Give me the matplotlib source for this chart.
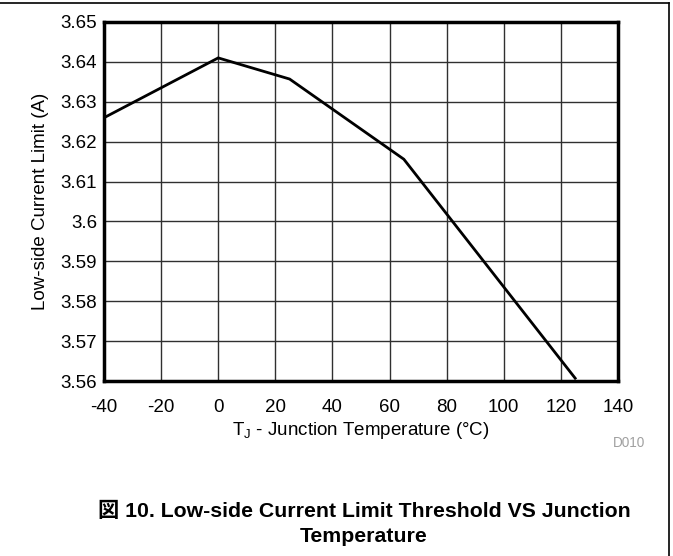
import matplotlib
matplotlib.use("Agg")
import matplotlib.pyplot as plt
from matplotlib.lines import Line2D

plt.rcParams['font.family'] = ['Liberation Sans', 'Noto Sans CJK JP', 'DejaVu Sans']

temps = [-40, 0, 25, 65, 125]
current = [3.626, 3.641, 3.6357, 3.6156, 3.5607]

x_ticks = [-40, -20, 0, 20, 40, 60, 80, 100, 120, 140]
y_ticks = [3.56, 3.57, 3.58, 3.59, 3.6, 3.61, 3.62, 3.63, 3.64, 3.65]
y_tick_labels = ["3.56", "3.57", "3.58", "3.59", "3.6", "3.61", "3.62", "3.63", "3.64", "3.65"]

fig = plt.figure(figsize=(6.73, 5.56), dpi=100)
ax = fig.add_axes([104/673, 1-381/556, (618-104)/673, (381-22)/556])

ax.plot(temps, current, color='black', lw=2.0, solid_joinstyle='miter', zorder=3)
ax.set_xlim(-40, 140)
ax.set_ylim(3.56, 3.65)
ax.set_xticks(x_ticks)
ax.set_xticklabels([str(t) for t in x_ticks])
ax.set_yticks(y_ticks)
ax.set_yticklabels(y_tick_labels)
ax.grid(True, color='#303030', lw=1.0)
ax.tick_params(axis='x', length=0, labelsize=13.5, pad=13, colors='black')
ax.tick_params(axis='y', length=0, labelsize=13.5, pad=5, colors='black')
for s in ax.spines.values():
    s.set_linewidth(2.5)
    s.set_color('black')

ax.set_xlabel("T$_\\mathregular{J}$ - Junction Temperature (°C)", fontsize=13.5, labelpad=3)
ax.set_ylabel("Low-side Current Limit (A)", fontsize=13.5, labelpad=8)

fig.text(645/673, 1-443/556, "D010", fontsize=9.8, color='#a0a0a0', ha='right', va='center')
fig.text(364/673, 1-511/556, "図 10. Low-side Current Limit Threshold VS Junction",
         fontsize=15.3, fontweight='bold', ha='center', va='center')
fig.text(364/673, 1-536/556, "Temperature",
         fontsize=15.3, fontweight='bold', ha='center', va='center')

fig.add_artist(Line2D([0, 669/673], [1-3/556, 1-3/556], color='black', lw=1.2, transform=fig.transFigure))
fig.add_artist(Line2D([669/673, 669/673], [1-3/556, 0], color='black', lw=1.2, transform=fig.transFigure))

fig.savefig("out.png", dpi=100)
